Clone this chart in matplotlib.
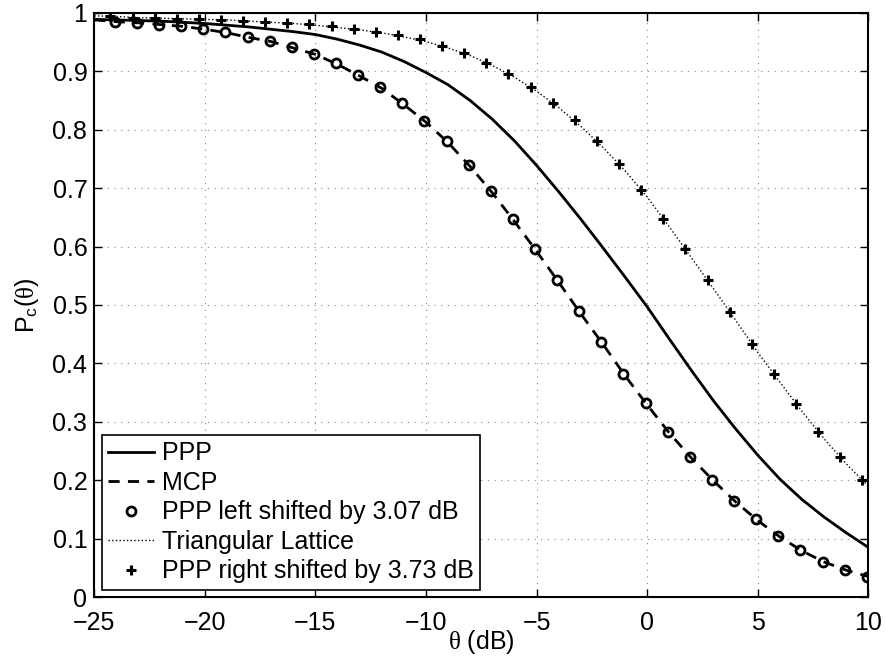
import numpy as np
import matplotlib
matplotlib.use('Agg')
import matplotlib.pyplot as plt

# Coverage probability vs SIR threshold
theta_db = [-25, -24, -23, -22, -21, -20, -19, -18, -17, -16, -15, -14, -13, -12,
            -11, -10, -9, -8, -7, -6, -5, -4, -3, -2, -1, 0, 1, 2, 3, 4, 5, 6,
            7, 8, 9, 10]

ppp = [0.989, 0.988, 0.987, 0.986, 0.984, 0.982, 0.979, 0.976, 0.972, 0.968,
       0.963, 0.955, 0.945, 0.933, 0.917, 0.898, 0.877, 0.850, 0.818, 0.781,
       0.739, 0.694, 0.647, 0.598, 0.548, 0.497, 0.442, 0.388, 0.336, 0.288,
       0.243, 0.202, 0.167, 0.137, 0.110, 0.085]

mcp = [0.988, 0.985, 0.983, 0.980, 0.977, 0.972, 0.966, 0.958, 0.951, 0.940,
       0.929, 0.912, 0.892, 0.871, 0.843, 0.813, 0.778, 0.737, 0.692, 0.643,
       0.592, 0.539, 0.485, 0.433, 0.379, 0.329, 0.281, 0.238, 0.199, 0.163,
       0.131, 0.103, 0.079, 0.060, 0.046, 0.035]

lattice = [0.995, 0.994, 0.992, 0.991, 0.990, 0.989, 0.988, 0.986, 0.984, 0.982,
           0.979, 0.975, 0.971, 0.966, 0.959, 0.951, 0.940, 0.927, 0.910, 0.890,
           0.866, 0.838, 0.806, 0.770, 0.730, 0.685, 0.634, 0.581, 0.528, 0.474,
           0.419, 0.368, 0.318, 0.271, 0.228, 0.190]

# PPP sampled on the integer grid, shifted left by 3.07 dB
left_x = [-24.07, -23.07, -22.07, -21.07, -20.07, -19.07, -18.07, -17.07, -16.07,
          -15.07, -14.07, -13.07, -12.07, -11.07, -10.07, -9.07, -8.07, -7.07,
          -6.07, -5.07, -4.07, -3.07, -2.07, -1.07, -0.07, 0.93, 1.93, 2.93,
          3.93, 4.93, 5.93, 6.93, 7.93, 8.93, 9.93]
left_y = [0.985, 0.983, 0.980, 0.977, 0.973, 0.967, 0.959, 0.952, 0.941, 0.930,
          0.914, 0.894, 0.873, 0.845, 0.815, 0.781, 0.740, 0.695, 0.647, 0.596,
          0.543, 0.489, 0.437, 0.382, 0.332, 0.283, 0.240, 0.201, 0.165, 0.133,
          0.104, 0.080, 0.060, 0.047, 0.035]

# PPP sampled on the integer grid, shifted right by 3.73 dB
right_x = [-24.27, -23.27, -22.27, -21.27, -20.27, -19.27, -18.27, -17.27, -16.27,
           -15.27, -14.27, -13.27, -12.27, -11.27, -10.27, -9.27, -8.27, -7.27,
           -6.27, -5.27, -4.27, -3.27, -2.27, -1.27, -0.27, 0.73, 1.73, 2.73,
           3.73, 4.73, 5.73, 6.73, 7.73, 8.73, 9.73]
right_y = [0.994, 0.992, 0.991, 0.990, 0.990, 0.988, 0.987, 0.985, 0.983, 0.981,
           0.977, 0.973, 0.968, 0.962, 0.955, 0.943, 0.931, 0.915, 0.896, 0.873,
           0.846, 0.816, 0.780, 0.741, 0.697, 0.647, 0.595, 0.542, 0.488, 0.433,
           0.381, 0.330, 0.283, 0.239, 0.200]

plt.rcParams['font.family'] = ['Liberation Sans', 'DejaVu Sans']
plt.rcParams['mathtext.fontset'] = 'custom'
plt.rcParams['mathtext.rm'] = 'Liberation Sans'
plt.rcParams['mathtext.it'] = 'Liberation Serif'
plt.rcParams['font.size'] = 18

fig = plt.figure(figsize=(8.86, 6.57), dpi=100)
ax = fig.add_axes([0.1064, 0.0913, 0.8736, 0.889])

ax.plot(theta_db, ppp, 'k-', lw=2.0, label='PPP')
ax.plot(theta_db, mcp, 'k--', lw=2.0, dashes=(4, 3), label='MCP')
ax.plot(left_x, left_y, 'ko', ls='none', ms=6.5, mfc='none', mew=2.0,
        label='PPP left shifted by 3.07 dB')
ax.plot(theta_db, lattice, 'k:', lw=1.0, label='Triangular Lattice')
ax.plot(right_x, right_y, 'k+', ls='none', ms=7, mew=2.2,
        label='PPP right shifted by 3.73 dB')

ax.set_xlim(-25, 10)
ax.set_ylim(0, 1)
ax.set_xticks(np.arange(-25, 11, 5))
ax.set_yticks(np.arange(0, 1.01, 0.1))
ax.set_yticklabels(['0', '0.1', '0.2', '0.3', '0.4', '0.5', '0.6', '0.7',
                    '0.8', '0.9', '1'])
ax.grid(True, color='#888888', ls=(0, (1, 5)), lw=0.8)
ax.tick_params(direction='in', top=True, right=True, length=6, width=1.0,
               pad=5)
ax.tick_params(axis='x', pad=10)
for sp in ax.spines.values():
    sp.set_linewidth(1.5)

ax.set_xlabel(r'$\theta$ (dB)', labelpad=-5)
ax.set_ylabel(r'P$_\mathrm{c}$($\theta$)', labelpad=8)

leg = ax.legend(loc='lower left', fancybox=False, edgecolor='black',
                framealpha=1, borderaxespad=0.3, handlelength=1.85,
                handletextpad=0.3, labelspacing=0.22, borderpad=0.25)
leg.get_frame().set_linewidth(1.2)

fig.savefig('out.png', dpi=100)
